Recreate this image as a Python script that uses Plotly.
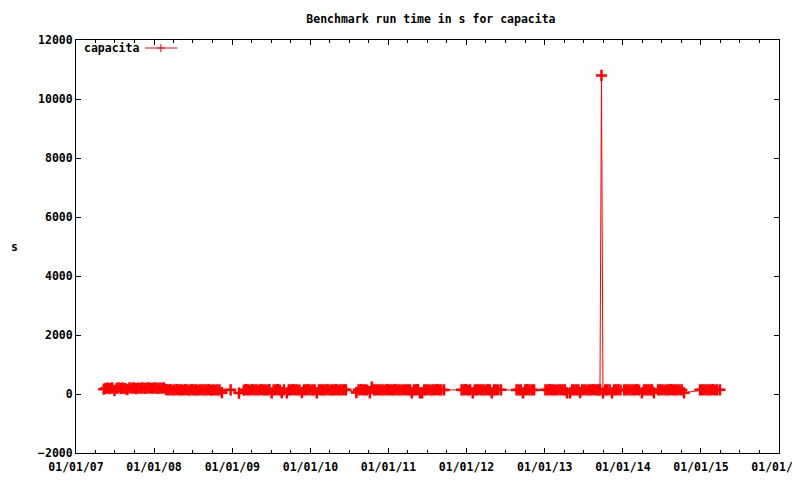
import plotly.graph_objects as go

# ---- data (date, run time in s) ----
dates_2007 = ["2007-05-11", "2007-05-20", "2007-05-31", "2007-06-09", "2007-06-19", "2007-06-30",
              "2007-07-10", "2007-07-19", "2007-07-30", "2007-08-09", "2007-08-20", "2007-08-29",
              "2007-09-08", "2007-09-19", "2007-09-28", "2007-10-08", "2007-10-18", "2007-10-29",
              "2007-11-07", "2007-11-17", "2007-11-27", "2007-12-07", "2007-12-17", "2007-12-28"]
values_2007 = [165, 190, 200, 185, 205, 120, 195, 210, 190, 200, 185, 150,
               205, 195, 210, 180, 200, 195, 205, 190, 200, 210, 195, 200]

dates_2008 = ["2008-01-07", "2008-01-17", "2008-01-27", "2008-02-06", "2008-02-16", "2008-02-26",
              "2008-03-07", "2008-03-17", "2008-03-27", "2008-04-06", "2008-04-16", "2008-04-26",
              "2008-05-06", "2008-05-16", "2008-05-26", "2008-06-05", "2008-06-15", "2008-06-25",
              "2008-07-05", "2008-07-15", "2008-07-25", "2008-08-04", "2008-08-14", "2008-08-24",
              "2008-09-03", "2008-09-13", "2008-09-23", "2008-10-03", "2008-10-13", "2008-10-23",
              "2008-11-02", "2008-11-13", "2008-12-24"]
values_2008 = [205, 190, 200, 195, 205, 150, 140, 145, 135, 140, 150, 138,
               142, 135, 145, 140, 132, 146, 138, 142, 136, 144, 139, 141,
               137, 145, 133, 140, 136, 142, 138, 45, 140]

dates_2009 = ["2009-02-01", "2009-02-24", "2009-03-05", "2009-03-15", "2009-03-25", "2009-04-04",
              "2009-04-14", "2009-04-24", "2009-05-04", "2009-05-14", "2009-05-24", "2009-06-03",
              "2009-06-13", "2009-06-23", "2009-07-04", "2009-07-13", "2009-07-23", "2009-08-02",
              "2009-08-11", "2009-08-20", "2009-08-30", "2009-09-13", "2009-09-22", "2009-10-02",
              "2009-10-12", "2009-10-22", "2009-11-01", "2009-11-11", "2009-11-22", "2009-12-02",
              "2009-12-12", "2009-12-22"]
values_2009 = [30, 130, 145, 140, 135, 148, 138, 142, 136, 145, 139, 143,
               135, 147, 40, 140, 138, 146, 135, 45, 142, 40, 140, 137,
               145, 139, 143, 136, 45, 141, 138, 146]

dates_2010 = ["2010-01-01", "2010-01-11", "2010-01-21", "2010-01-31", "2010-02-10", "2010-02-20",
              "2010-03-02", "2010-03-12", "2010-03-22", "2010-04-01", "2010-04-11", "2010-04-21",
              "2010-05-01", "2010-05-11", "2010-05-21", "2010-05-31", "2010-06-08", "2010-06-16",
              "2010-08-04", "2010-08-14", "2010-08-24", "2010-09-03", "2010-09-13", "2010-09-23",
              "2010-10-06", "2010-10-15", "2010-10-25", "2010-11-04", "2010-11-14", "2010-11-24",
              "2010-12-04", "2010-12-14", "2010-12-24"]
values_2010 = [135, 142, 139, 40, 144, 137, 141, 138, 145, 136, 143, 139,
               146, 135, 142, 138, 144, 140,
               50, 140, 145, 138, 142, 136, 40, 230, 140, 137, 144, 139,
               142, 136, 145]

dates_2011 = ["2011-01-03", "2011-01-13", "2011-01-23", "2011-02-02", "2011-02-12", "2011-02-22",
              "2011-03-04", "2011-03-14", "2011-03-24", "2011-04-03", "2011-04-12", "2011-04-20",
              "2011-04-30", "2011-05-10", "2011-05-19", "2011-05-28", "2011-06-07", "2011-06-17",
              "2011-06-27", "2011-07-07", "2011-07-17", "2011-07-27", "2011-08-06", "2011-08-16",
              "2011-08-26", "2011-09-05", "2011-09-18",
              "2011-12-09", "2011-12-19", "2011-12-29"]
values_2011 = [138, 141, 137, 145, 139, 142, 136, 144, 140, 138, 143, 40,
               140, 137, 145, 40, 35, 140, 138, 144, 136, 142, 139, 145,
               137, 141, 138,
               140, 138, 145]

dates_2012 = ["2012-01-08", "2012-01-18", "2012-01-30", "2012-02-09", "2012-02-19", "2012-02-29",
              "2012-03-10", "2012-03-20", "2012-03-30", "2012-04-09", "2012-04-19", "2012-04-28",
              "2012-05-08", "2012-05-18", "2012-05-28", "2012-06-10",
              "2012-08-22", "2012-09-01", "2012-09-11", "2012-09-21", "2012-10-01", "2012-10-11",
              "2012-10-21", "2012-11-01", "2012-11-12"]
values_2012 = [136, 142, 40, 140, 137, 144, 139, 142, 136, 145, 138, 40,
               141, 137, 144, 140,
               138, 143, 137, 40, 140, 145, 138, 142, 139]

dates_2013 = ["2013-01-04", "2013-01-14", "2013-01-24", "2013-02-03", "2013-02-13", "2013-02-23",
              "2013-03-05", "2013-03-15", "2013-03-25", "2013-04-05", "2013-04-15", "2013-04-29",
              "2013-05-09", "2013-05-19", "2013-05-29", "2013-06-07", "2013-06-15", "2013-06-25",
              "2013-07-05", "2013-07-15", "2013-07-25", "2013-08-04", "2013-08-14", "2013-08-24",
              "2013-09-03", "2013-09-12", "2013-09-16", "2013-09-23", "2013-09-30", "2013-10-10",
              "2013-10-20", "2013-10-31", "2013-11-11", "2013-11-21", "2013-12-01", "2013-12-11",
              "2013-12-21"]
values_2013 = [140, 137, 145, 139, 142, 136, 144, 138, 141, 137, 35, 40,
               140, 143, 137, 142, 45, 139, 144, 136, 141, 138, 145, 137,
               142, 139, 140, 10800, 35, 140, 137, 144, 40, 141, 138, 145,
               136]

dates_2014 = ["2014-01-07", "2014-01-17", "2014-01-27", "2014-02-06", "2014-02-16", "2014-02-26",
              "2014-03-08", "2014-03-18", "2014-03-31", "2014-04-10", "2014-04-20", "2014-04-30",
              "2014-05-10", "2014-05-18", "2014-05-26", "2014-06-15", "2014-06-25", "2014-07-05",
              "2014-07-15", "2014-07-25", "2014-08-04", "2014-08-14", "2014-08-24", "2014-09-03",
              "2014-09-13", "2014-09-23", "2014-10-03", "2014-10-14", "2014-12-28"]
values_2014 = [142, 139, 144, 137, 141, 138, 145, 136, 40, 140, 143, 137,
               142, 139, 40, 141, 138, 144, 136, 142, 139, 145, 137, 141,
               138, 144, 137, 40, 140]

dates_2015 = ["2015-01-07", "2015-01-17", "2015-01-27", "2015-02-06", "2015-02-16", "2015-02-26",
              "2015-03-08", "2015-03-18", "2015-03-31"]
values_2015 = [138, 144, 137, 142, 139, 145, 136, 141, 140]

series_name = "capacita"
y_tick_values = [-2000, 0, 2000, 4000, 6000, 8000, 10000, 12000]

dates = dates_2007 + dates_2008 + dates_2009 + dates_2010 + dates_2011 + dates_2012 + dates_2013 + dates_2014 + dates_2015
values = values_2007 + values_2008 + values_2009 + values_2010 + values_2011 + values_2012 + values_2013 + values_2014 + values_2015

FONT = "DejaVu Sans Mono"
FS = 11.5
RED = "#ff0000"

fig = go.Figure()
fig.add_trace(go.Scatter(
    x=dates, y=values, mode="lines+markers", name=series_name,
    line=dict(color=RED, width=1),
    marker=dict(symbol="cross-thin", size=8, line=dict(color=RED, width=2.5)),
    showlegend=False,
))

# page body has an 8px margin, so the figure is 792x472 and margins are offset
fig.update_layout(
    width=792, height=472,
    margin=dict(l=68, r=21, t=32, b=27, autoexpand=False),
    paper_bgcolor="white", plot_bgcolor="white",
    font=dict(family=FONT, size=FS, color="black", weight="bold"),
    title=dict(text="Benchmark run time in s for capacita", x=0.534, xanchor="center",
               y=1 - 11 / 472, yanchor="middle",
               font=dict(family=FONT, size=FS, weight="bold")),
    xaxis=dict(
        type="date", range=["2007-01-01", "2016-01-01 02:00"],
        tickformat="%m/%d/%y", dtick="M12", tick0="2007-01-01",
        ticks="inside", ticklen=5, tickcolor="black", tickwidth=1,
        showline=True, linecolor="black", linewidth=1, mirror="allticks",
        showgrid=False, zeroline=False, automargin=False,
        ticklabeloverflow="allow", ticklabelstandoff=3,
        minor=dict(dtick="M3", tick0="2007-01-01", ticks="inside", ticklen=3,
                   tickcolor="black", showgrid=False),
        tickfont=dict(family=FONT, size=FS, color="black", weight="bold"),
    ),
    yaxis=dict(
        range=[-2000, 12000], tickvals=y_tick_values, tickformat="d",
        ticks="inside", ticklen=5, tickcolor="black", tickwidth=1,
        showline=True, linecolor="black", linewidth=1, mirror="allticks",
        showgrid=False, zeroline=False, automargin=False,
        tickfont=dict(family=FONT, size=FS, color="black", weight="bold"),
    ),
)

# y-axis label
fig.add_annotation(text="s", xref="paper", yref="paper", x=-0.088, y=0.5,
                   xanchor="center", yanchor="middle", showarrow=False,
                   font=dict(family=FONT, size=FS, color="black", weight="bold"))

# gnuplot-style key: text, then line sample with a point marker
fig.add_annotation(text=series_name, xref="paper", yref="paper", x=0.0085, y=0.9806,
                   xanchor="left", yanchor="middle", showarrow=False,
                   font=dict(family=FONT, size=FS, color="black", weight="bold"))
fig.add_shape(type="line", xref="paper", yref="paper", x0=0.0982, x1=0.1444, y0=0.9806, y1=0.9806,
              line=dict(color=RED, width=1))
fig.add_shape(type="line", xref="paper", yref="paper", x0=0.1206, x1=0.1206, y0=0.9903, y1=0.9709,
              line=dict(color=RED, width=1))
fig.add_shape(type="line", xref="paper", yref="paper", x0=0.1149, x1=0.1263, y0=0.9806, y1=0.9806,
              line=dict(color=RED, width=1))

fig.write_html("out.html")
